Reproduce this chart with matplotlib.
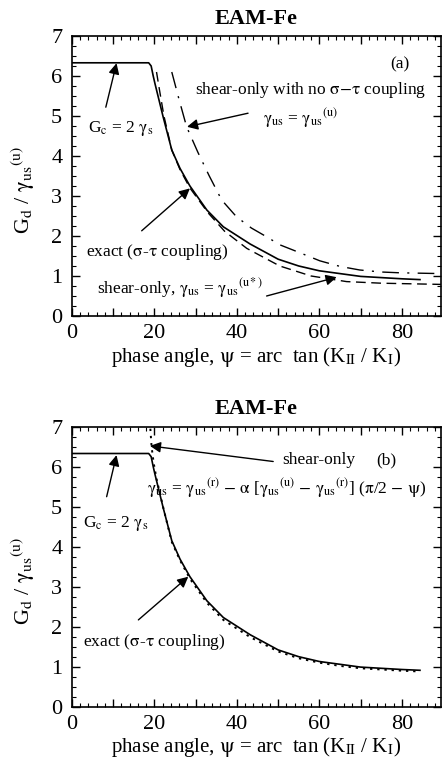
import matplotlib
matplotlib.use("Agg")
import matplotlib.pyplot as plt
from matplotlib.ticker import MultipleLocator, FuncFormatter

plt.rcParams['font.family'] = ['Liberation Serif', 'DejaVu Serif']
plt.rcParams['mathtext.fontset'] = 'stix'

# ---- data ----
exact_x = [0, 18.6, 19.2, 19.7, 20.1, 22.1, 24.2, 26.2, 28.6, 32.7, 36.7, 43.2, 50, 55, 60, 65, 70, 75, 80, 84.4]
exact_y = [6.33, 6.33, 6.25, 6.0, 5.82, 4.98, 4.15, 3.69, 3.25, 2.65, 2.23, 1.8, 1.42, 1.25, 1.13, 1.06, 0.99, 0.96, 0.93, 0.91]

ustar_x = [20.5, 21.3, 22.3, 24.2, 26.2, 28.6, 33.0, 37.0, 42.4, 50.4, 58, 66.6, 75, 89.5]
ustar_y = [6.1, 5.6, 5.0, 4.15, 3.66, 3.2, 2.58, 2.12, 1.69, 1.25, 1.0, 0.86, 0.82, 0.79]

nocoup_x = [24.2, 26.0, 27.8, 30.5, 33.2, 36.3, 39.9, 43.5, 47.2, 50.4, 55.3, 60.1, 65, 69.8, 75, 79.5, 89.5]
nocoup_y = [6.1, 5.4, 4.73, 4.1, 3.52, 2.9, 2.48, 2.2, 1.98, 1.78, 1.58, 1.38, 1.24, 1.15, 1.1, 1.08, 1.06]

shearb_x = [19.0, 19.3, 19.8, 20.5, 22.2, 24.2, 26.2, 28.6, 32.7, 36.7, 43.2, 50, 55, 60, 65, 70, 75, 80, 84.4]
shearb_y = [6.95, 6.5, 6.1, 5.7, 4.95, 4.12, 3.66, 3.2, 2.6, 2.17, 1.74, 1.38, 1.21, 1.1, 1.02, 0.96, 0.93, 0.9, 0.88]

xticks = [0, 20, 40, 60, 80]
yticks = [0, 1, 2, 3, 4, 5, 6, 7]

W, H = 442, 760
fig = plt.figure(figsize=(W / 100, H / 100), dpi=100)

def axes_px(left, top, right, bottom):
    return fig.add_axes([left / W, 1 - bottom / H, (right - left) / W, (bottom - top) / H])

axa = axes_px(72, 36, 441, 316)
axb = axes_px(72, 426.7, 441, 706.7)

def style(ax):
    ax.set_xlim(0, 89.5)
    ax.set_ylim(0, 7)
    ax.xaxis.set_major_locator(MultipleLocator(10))
    ax.xaxis.set_minor_locator(MultipleLocator(2))
    ax.yaxis.set_major_locator(MultipleLocator(1))
    ax.yaxis.set_minor_locator(MultipleLocator(0.25))
    ax.xaxis.set_major_formatter(FuncFormatter(lambda v, p: f"{int(round(v))}" if int(round(v)) in xticks else ""))
    ax.tick_params(which='both', direction='in', top=True, right=True, labelsize=16)
    ax.tick_params(axis='x', pad=6)
    ax.tick_params(axis='y', pad=7)
    ax.tick_params(which='major', length=6, width=1)
    ax.tick_params(which='minor', length=3, width=0.8)
    for s in ax.spines.values():
        s.set_linewidth(1.2)
    ax.set_title('EAM-Fe', fontsize=16, fontweight='bold', pad=9)
    ax.set_xlabel(r'phase angle, $\mathrm{ψ}$ = arc  tan (K$_{\mathrm{II}}$ / K$_{\mathrm{I}}$)', fontsize=15, labelpad=1)
    ax.set_ylabel(r'G$_{\mathrm{d}}$ / $\mathrm{γ}_{\mathrm{us}}$$^{\mathrm{(u)}}$', fontsize=16)
    ax.yaxis.set_label_coords(-0.095, 0.45)

style(axa)
style(axb)

arrow = dict(arrowstyle='-|>', color='black', lw=1.0, mutation_scale=16, shrinkA=0, shrinkB=0)
fs = 12.5

# ---- panel (a) ----
axa.plot(exact_x, exact_y, color='black', lw=1.2)
axa.plot(ustar_x, ustar_y, color='black', lw=1.0, dashes=(7, 4))
axa.plot(nocoup_x, nocoup_y, color='black', lw=1.0, dashes=(12, 6, 1.5, 6))

axa.text(79.5, 6.28, '(a)', fontsize=fs, ha='center', va='center')
axa.text(29.8, 5.65, r'shear-only with no $\mathrm{σ}$$-$$\mathrm{τ}$ coupling', fontsize=fs, ha='left', va='center')
axa.text(55.3, 4.95, r'$\mathrm{γ}_{\mathrm{us}}$ = $\mathrm{γ}_{\mathrm{us}}$$^{\mathrm{(u)}}$', fontsize=fs, ha='center', va='center')
axa.annotate('', xy=(27.9, 4.73), xytext=(42.7, 5.07), arrowprops=arrow)
axa.text(3.9, 4.7, r'G$_{\mathrm{c}}$ = 2 $\mathrm{γ}_{\mathrm{s}}$', fontsize=fs, ha='left', va='center')
axa.annotate('', xy=(10.8, 6.32), xytext=(8.2, 5.22), arrowprops=arrow)
axa.text(3.4, 1.61, r'exact ($\mathrm{σ}$-$\mathrm{τ}$ coupling)', fontsize=fs, ha='left', va='center')
axa.annotate('', xy=(28.6, 3.19), xytext=(16.9, 2.13), arrowprops=arrow)
axa.text(6.0, 0.69, r'shear-only, $\mathrm{γ}_{\mathrm{us}}$ = $\mathrm{γ}_{\mathrm{us}}$$^{\mathrm{(u*)}}$', fontsize=fs, ha='left', va='center')
axa.annotate('', xy=(64.2, 0.97), xytext=(47.2, 0.5), arrowprops=arrow)

# ---- panel (b) ----
axb.plot(exact_x, exact_y, color='black', lw=1.2)
axb.plot(shearb_x, shearb_y, color='black', lw=1.4, dashes=(1.2, 2.5))

axb.text(76.3, 6.17, '(b)', fontsize=fs, ha='center', va='center')
axb.text(50.9, 6.17, 'shear-only', fontsize=fs, ha='left', va='center')
axb.annotate('', xy=(18.9, 6.52), xytext=(48.8, 6.13), arrowprops=arrow)
axb.text(18.2, 5.47,
         r'$\mathrm{γ}_{\mathrm{us}}$ = $\mathrm{γ}_{\mathrm{us}}$$^{\mathrm{(r)}}$ $-$ $\mathrm{α}$ [$\mathrm{γ}_{\mathrm{us}}$$^{\mathrm{(u)}}$ $-$ $\mathrm{γ}_{\mathrm{us}}$$^{\mathrm{(r)}}$] ($\mathrm{π}$/2 $-$ $\mathrm{ψ}$)',
         fontsize=fs, ha='left', va='center')
axb.text(2.7, 4.59, r'G$_{\mathrm{c}}$ = 2 $\mathrm{γ}_{\mathrm{s}}$', fontsize=fs, ha='left', va='center')
axb.annotate('', xy=(10.8, 6.29), xytext=(8.4, 5.25), arrowprops=arrow)
axb.text(2.7, 1.63, r'exact ($\mathrm{σ}$-$\mathrm{τ}$ coupling)', fontsize=fs, ha='left', va='center')
axb.annotate('', xy=(28.2, 3.25), xytext=(16.1, 2.17), arrowprops=arrow)

fig.savefig('out.png', dpi=100)
